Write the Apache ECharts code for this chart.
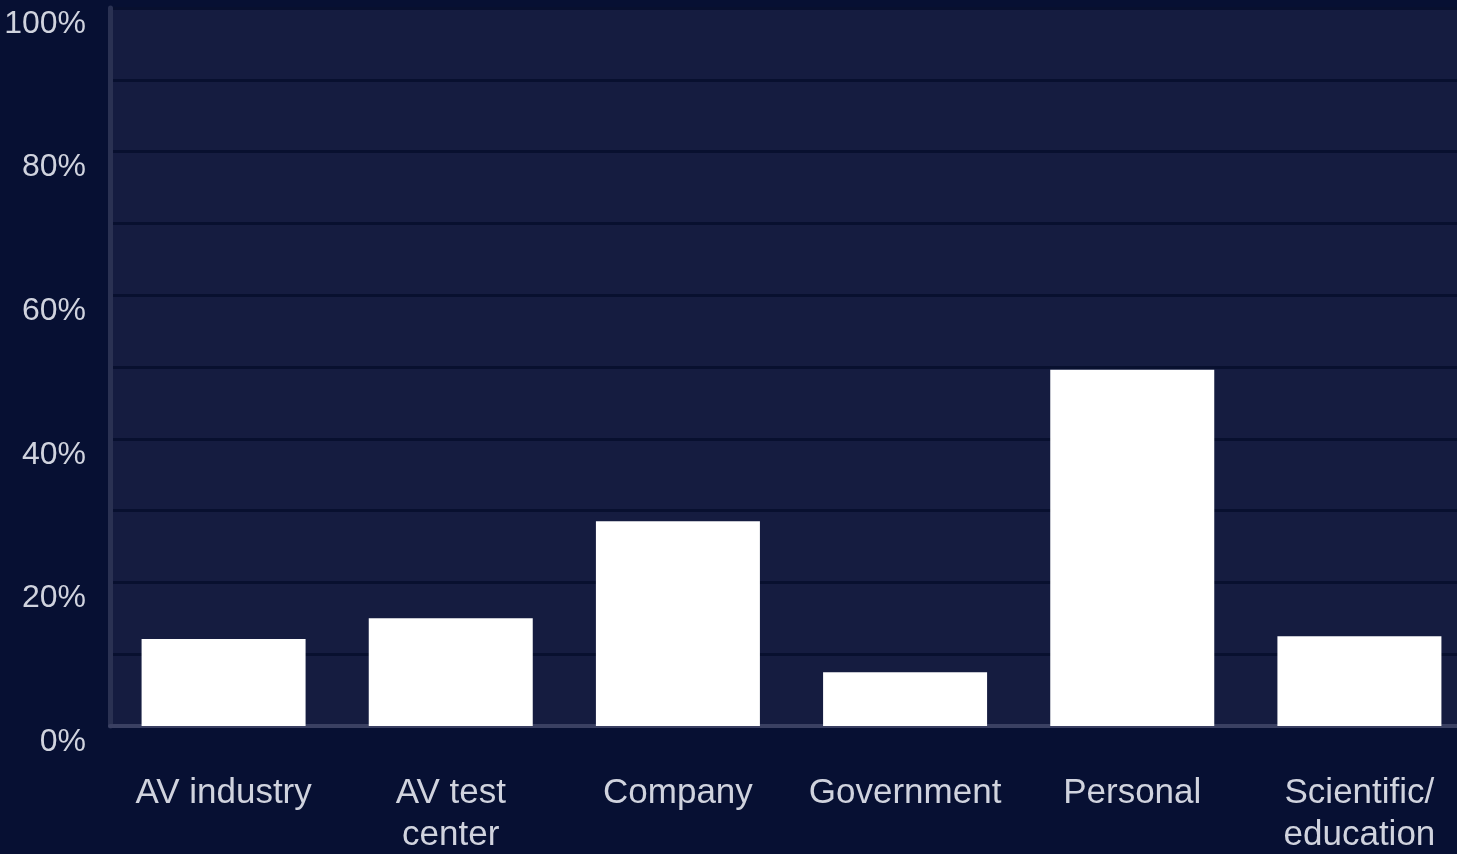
<!DOCTYPE html>
<html>
<head>
<meta charset="utf-8">
<script src="https://cdn.jsdelivr.net/npm/echarts@6/dist/echarts.min.js"></script>
<style>
  html, body { margin: 0; padding: 0; background: #071033; overflow: hidden; }
  #barChart { width: 1457px; height: 854px; }
</style>
</head>
<body>
<div id="barChart"></div>
<script>
// categories and shares (percent)
const categories = ['AV industry', 'AV test\ncenter', 'Company', 'Government', 'Personal', 'Scientific/\neducation']
const shares = [12.1, 15.0, 28.5, 7.5, 49.6, 12.5]
const yTicks = [0, 20, 40, 60, 80, 100]

const labelFont = '"Liberation Sans Narrow", "Arial Narrow", "Liberation Sans", Arial, sans-serif'

const chart = echarts.init(document.getElementById('barChart'))
chart.setOption({
  backgroundColor: '#071033',
  animation: false,
  grid: {
    show: true,
    backgroundColor: '#151c40',
    borderWidth: 0,
    left: 110,
    right: -16,
    top: 8,
    bottom: 128,
    outerBoundsMode: 'none',
    containLabel: false
  },
  xAxis: {
    type: 'category',
    data: categories,
    axisLine: {
      show: true,
      lineStyle: { color: '#3a4062', width: 4 }
    },
    axisTick: { show: false },
    axisLabel: {
      color: '#d0d3de',
      fontFamily: labelFont,
      fontSize: 35,
      lineHeight: 42,
      margin: 46,
      interval: 0
    }
  },
  yAxis: {
    type: 'value',
    min: yTicks[0],
    max: yTicks[yTicks.length - 1],
    interval: 20,
    axisLine: {
      show: true,
      lineStyle: { color: '#2a3152', width: 5 }
    },
    axisTick: { show: false },
    axisLabel: {
      color: '#d0d3de',
      fontFamily: labelFont,
      fontSize: 32,
      margin: 24,
      verticalAlign: 'top',
      formatter: (v) => (yTicks.includes(v) ? v + '%' : '')
    },
    splitLine: {
      show: true,
      lineStyle: { color: '#08102f', width: 3 }
    },
    minorTick: { show: false, splitNumber: 2 },
    minorSplitLine: {
      show: true,
      lineStyle: { color: '#08102f', width: 3 }
    }
  },
  series: [
    {
      type: 'bar',
      data: shares,
      barWidth: 164,
      itemStyle: { color: '#ffffff' }
    }
  ]
})
</script>
</body>
</html>
